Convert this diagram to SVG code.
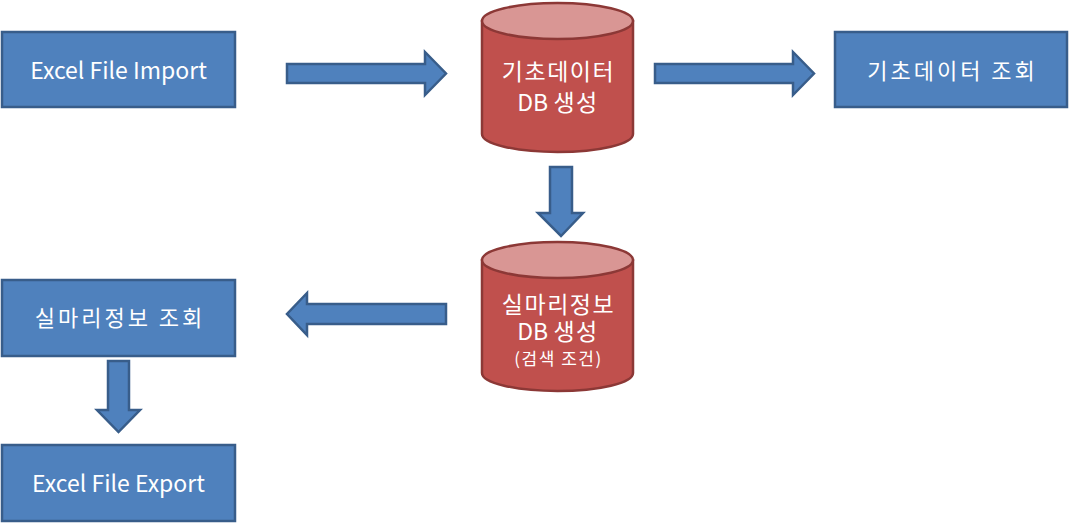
<svg xmlns="http://www.w3.org/2000/svg" width="1070" height="523" viewBox="0 0 1070 523">
<style>
.box{fill:#4F81BD;stroke:#385D8A;stroke-width:2.5}
.cyl{fill:#C0504D;stroke:#8C3836;stroke-width:2.5}
.cyltop{fill:#D99694;stroke:#8C3836;stroke-width:2.5}
.arr{fill:#4F81BD;stroke:#385D8A;stroke-width:2.5;stroke-linejoin:miter}
text{font-family:"Noto Sans CJK KR","Noto Sans",sans-serif;fill:#fff;text-anchor:middle}
.t{font-size:23px}
.k{font-size:22px;letter-spacing:3px}
.c{font-size:23px;letter-spacing:1.5px}
.n{letter-spacing:0}
.s{font-size:17px;letter-spacing:1.5px}
</style>
<rect width="1070" height="523" fill="#fff"/>
<g id="import"><rect class="box" x="2" y="32" width="233" height="75"/><text class="t" x="118.5" y="79">Excel File Import</text></g>
<g id="basedb"><path class="cyl" d="M482,21 V134 A75.5,18 0 0 0 633,134 V21 Z"/><ellipse class="cyltop" cx="557.5" cy="21" rx="75.5" ry="18"/><text class="c" x="558.5" y="80">기초데이터</text><text class="c" x="558" y="111"><tspan class="n">DB </tspan>생성</text></g>
<g id="baseview"><rect class="box" x="835" y="32" width="232" height="75"/><text class="k" x="952.5" y="79">기초데이터 조회</text></g>
<g id="cluedb"><path class="cyl" d="M482,260 V373 A75.5,18 0 0 0 633,373 V260 Z"/><ellipse class="cyltop" cx="557.5" cy="260" rx="75.5" ry="18"/><text class="c" x="558.5" y="313">실마리정보</text><text class="c" x="558" y="340"><tspan class="n">DB </tspan>생성</text><text class="s" x="558.5" y="365">(검색 조건)</text></g>
<g id="clueview"><rect class="box" x="2" y="280" width="233" height="76"/><text class="k" x="120" y="326">실마리정보 조회</text></g>
<g id="export"><rect class="box" x="2" y="445" width="233" height="76"/><text class="t" x="118.5" y="492">Excel File Export</text></g>
<g id="connectors">
<path class="arr" d="M287,64 H425 V52 L446,73.5 L425,95 V83 H287 Z"/>
<path class="arr" d="M655,64 H793 V52 L814,73.5 L793,95 V83 H655 Z"/>
<path class="arr" d="M550,167 H572 V213 H583 L561,236 L538,213 H550 Z"/>
<path class="arr" d="M446,304 H307 V293 L287,314 L307,335 V324 H446 Z"/>
<path class="arr" d="M108,361 H129 V410 H140 L118.5,432 L97,410 H108 Z"/>
</g>
</svg>
